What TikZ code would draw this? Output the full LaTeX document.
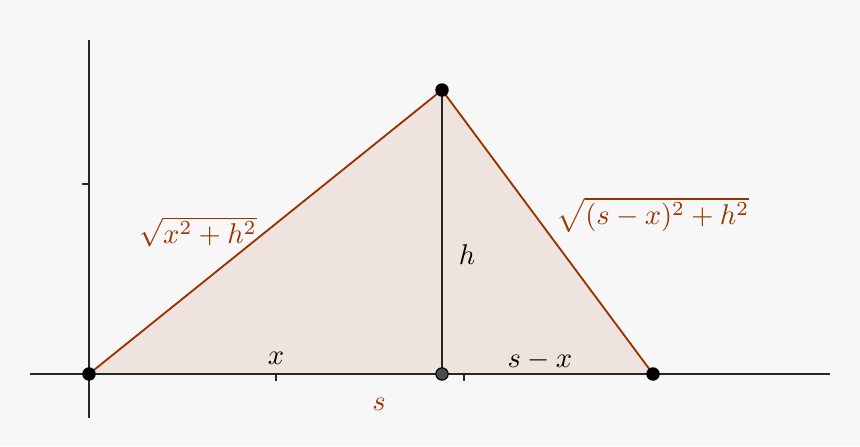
\documentclass[tikz,border=0pt]{standalone}
\usetikzlibrary{positioning}
\definecolor{ggbrown}{RGB}{153,51,0}
\definecolor{ggfill}{RGB}{239,227,223}
\definecolor{ggback}{RGB}{247,247,247}
\begin{document}
\begin{tikzpicture}[x=0.35pt,y=-0.35pt,
      axis/.style={black!85,line width=0.65pt},
      side/.style={ggbrown,line width=0.65pt},
      dot/.style={circle,draw=black,fill=black,inner sep=0pt,minimum size=4.3pt},
      lab/.style={inner sep=1pt}
     ]
\fill[ggback] (0,0) rectangle (860,446);
\useasboundingbox (0,0) rectangle (860,446);
% points
\coordinate (A) at (89,374);
\coordinate (C) at (442,90);
\coordinate (B) at (653,374);
\coordinate (H) at (442,374);
% triangle
\fill[ggfill] (A) -- (C) -- (B) -- cycle;
\draw[axis] (30,374) -- (830,374);
\draw[axis] (89,40) -- (89,418);
\draw[axis] (82,184) -- (89,184);
\draw[axis] (276,374) -- (276,381);
\draw[axis] (464,374) -- (464,381);
\draw[side] (A) -- (C) -- (B);
\draw[axis] (C) -- (H);
\node[dot] (a) at (A) {};
\node[dot] (c) at (C) {};
\node[dot] (b) at (B) {};
\node[dot,fill=black!70] (h) at (H) {};
% labels
\node[lab,text=ggbrown] (ac) at (198,232) {$\sqrt{x^2+h^2}$};
\node[lab,text=ggbrown] (cb) at (653,215) {$\sqrt{(s-x)^2+h^2}$};
\node[lab] (ch) at (467,255) {$h$};
\node[lab] (ah) at (276,358) {$x$};
\node[lab] (hb) at (540,360) {$s-x$};
\node[lab,text=ggbrown] (ab) at (379,404) {$s$};
\end{tikzpicture}
\end{document}
